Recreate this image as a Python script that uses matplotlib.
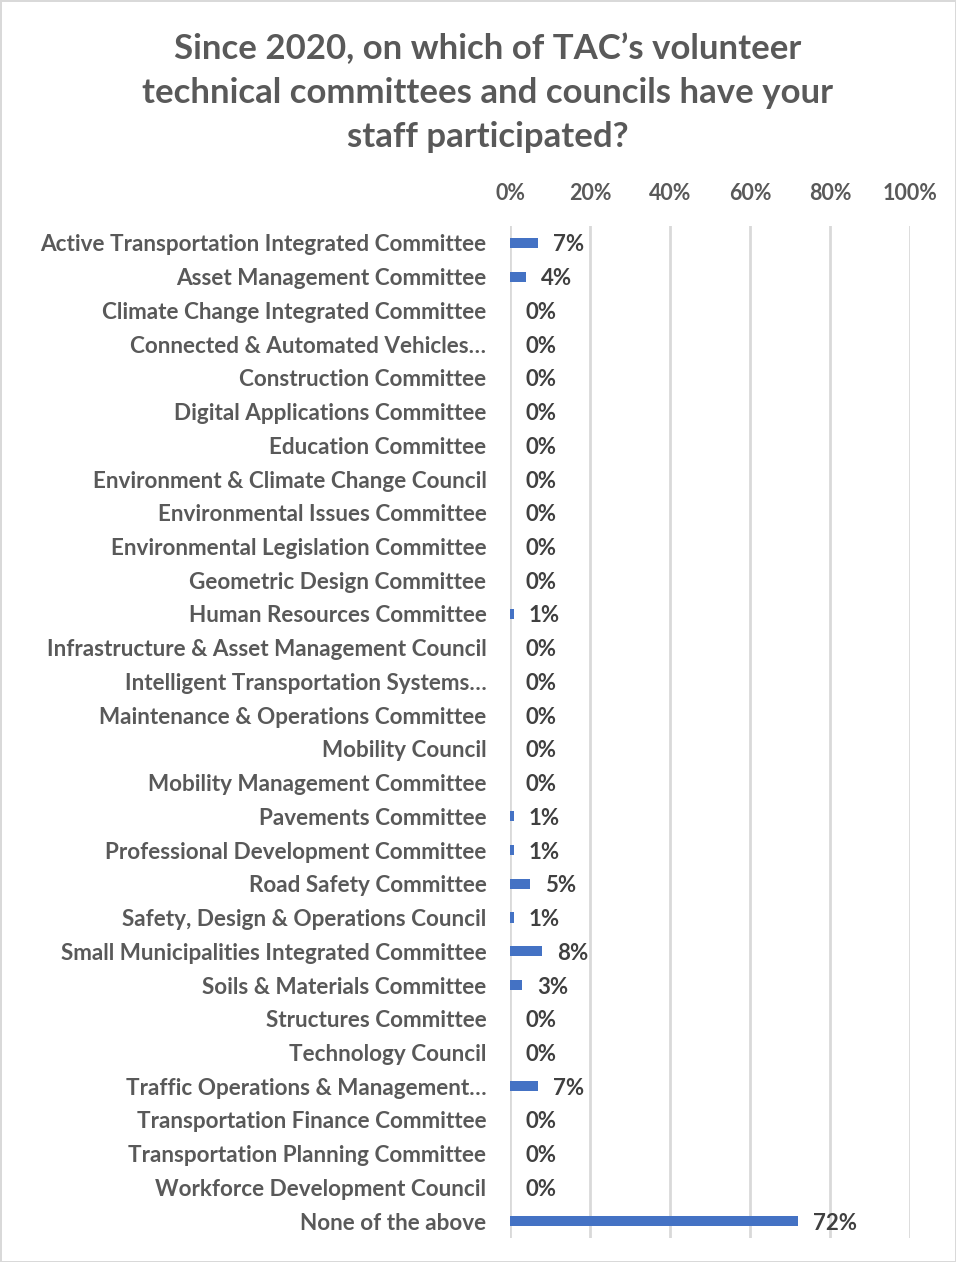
import matplotlib.pyplot as plt
from matplotlib.ticker import FuncFormatter
import numpy as np

categories = [
    "Active Transportation Integrated Committee",
    "Asset Management Committee",
    "Climate Change Integrated Committee",
    "Connected & Automated Vehicles…",
    "Construction Committee",
    "Digital Applications Committee",
    "Education Committee",
    "Environment & Climate Change Council",
    "Environmental Issues Committee",
    "Environmental Legislation Committee",
    "Geometric Design Committee",
    "Human Resources Committee",
    "Infrastructure & Asset Management Council",
    "Intelligent Transportation Systems…",
    "Maintenance & Operations Committee",
    "Mobility Council",
    "Mobility Management Committee",
    "Pavements Committee",
    "Professional Development Committee",
    "Road Safety Committee",
    "Safety, Design & Operations Council",
    "Small Municipalities Integrated Committee",
    "Soils & Materials Committee",
    "Structures Committee",
    "Technology Council",
    "Traffic Operations & Management…",
    "Transportation Finance Committee",
    "Transportation Planning Committee",
    "Workforce Development Council",
    "None of the above",
]
percent = [7, 4, 0, 0, 0, 0, 0, 0, 0, 0, 0, 1, 0, 0, 0, 0, 0, 1, 1, 5, 1, 8, 3, 0, 0, 7, 0, 0, 0, 72]
x_ticks = [0, 20, 40, 60, 80, 100]

title = ("Since 2020, on which of TAC\u2019s volunteer\n"
         "technical committees and councils have your\n"
         "staff participated?")

plt.rcParams["font.family"] = ["Lato", "DejaVu Sans"]
label_grey = "#595959"
bar_blue = "#4472C4"

fig = plt.figure(figsize=(9.56, 12.62), dpi=100)
fig.patch.set_edgecolor("#D9D9D9")
fig.patch.set_linewidth(2)
ax = fig.add_axes([510 / 956, 1 - 1238 / 1262, 400 / 956, (1238 - 226) / 1262])

y = np.arange(len(categories))
ax.barh(y, percent, height=0.3, color=bar_blue, zorder=3)

for yi, v in zip(y, percent):
    ax.annotate(f"{v}%", (v, yi), xytext=(15, 0), textcoords="offset pixels",
                ha="left", va="center_baseline", fontsize=16, fontweight="bold",
                color="#404040", zorder=4)

ax.set_xlim(0, 100)
ax.set_ylim(len(categories) - 0.5, -0.5)
ax.set_yticks(y)
ax.set_yticklabels(categories, fontsize=16.2, fontweight="bold", color=label_grey)
ax.set_xticks(x_ticks)
ax.xaxis.set_major_formatter(FuncFormatter(lambda v, _: f"{v:.0f}%"))
ax.xaxis.tick_top()
ax.tick_params(axis="x", length=0, pad=16, labelsize=15.5, labelcolor=label_grey)
for lab in ax.get_xticklabels():
    lab.set_fontweight("bold")
ax.tick_params(axis="y", length=0, pad=17)

ax.grid(axis="x", color="#D9D9D9", linewidth=2, zorder=0)
for side in ["top", "right", "bottom", "left"]:
    ax.spines[side].set_visible(False)

fig.text(488 / 956, 1 - 93 / 1262, title, ha="center", va="center",
         fontsize=25, fontweight="bold", color=label_grey, linespacing=1.45)

fig.savefig("out.png", dpi=100, edgecolor=fig.get_edgecolor())
